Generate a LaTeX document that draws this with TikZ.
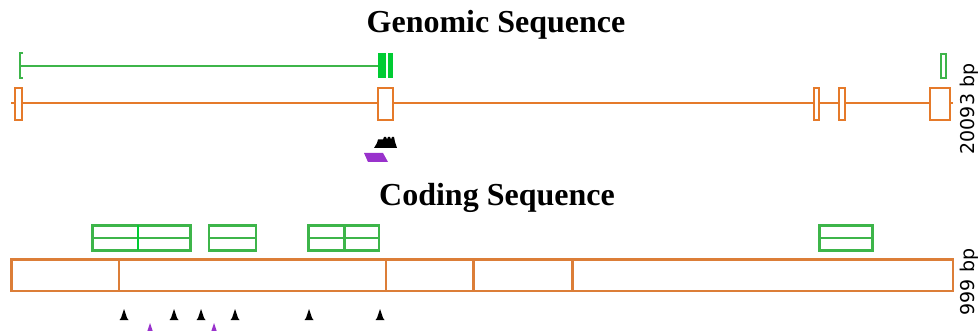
\documentclass[tikz,border=0pt]{standalone}
\usepackage{fontspec}
\setmainfont{Liberation Serif}
\newfontfamily\labfont{DejaVu Sans}
\definecolor{orng}{HTML}{E57A2A}
\definecolor{orng2}{HTML}{DC7E38}
\definecolor{grn}{HTML}{3DB54A}
\definecolor{brgrn}{HTML}{00CC33}
\definecolor{purp}{HTML}{9932CC}
\tikzset{
  title/.style={font=\fontsize{32}{38}\selectfont\bfseries, inner sep=0pt, anchor=base},
  bplabel/.style={font=\labfont\fontsize{19}{22}\selectfont, rotate=90, inner sep=0pt, anchor=center},
  gline/.style={draw=grn, line width=2.1pt},
  oline/.style={draw=orng, line width=2pt},
  obox/.style={draw=orng, fill=white, line width=2pt},
  cbox/.style={draw=orng2, fill=white, line width=2.2pt},
  cdiv/.style={draw=orng2, line width=2.2pt},
  gbox/.style={draw=grn, fill=white, line width=2.2pt},
  gfill/.style={fill=brgrn, draw=none},
  btri/.style={fill=black, draw=none},
  ptri/.style={fill=purp, draw=none},
}
\begin{document}
\begin{tikzpicture}[x=1pt, y=-1pt]
\useasboundingbox (0,0) rectangle (980,331);
% titles
\node[title] (gt) at (496,33) {Genomic Sequence};
\node[title] (ct) at (497,206) {Coding Sequence};
% genomic green track
\draw[gline] (23,53) -- (20,53) -- (20,78) -- (23,78);
\draw[gline] (20,66) -- (378,66);
\fill[gfill] (378,53) rectangle (386,78);
\fill[gfill] (388,53) rectangle (393,78);
\draw[gbox, line width=1.6pt] (941,54) rectangle (946,78);
% genomic orange track
\draw[oline] (11,103) -- (953,103);
\draw[obox] (15,88) rectangle (22,120);
\draw[obox] (378,88) rectangle (392.5,120);
\draw[obox] (814,88) rectangle (819,120);
\draw[obox] (838.5,88) rectangle (844.5,120);
\draw[obox] (929.5,88) rectangle (950,120);
\node[bplabel] (gl) at (969,109) {20093 bp};
% genomic markers
\fill[btri] (374,148) -- (377,143) -- (378,139.5) -- (383,139.5) -- (384,137) -- (386,137) -- (387,139.5)
  -- (388,137) -- (390,137) -- (391,139.5) -- (392,137) -- (394,137) -- (395,142) -- (397,148) -- cycle;
\fill[ptri] (364,153) -- (383,153) -- (388,162) -- (368,162) -- cycle;
% coding green boxes
\foreach \a/\b in {92.5/138, 138/190.5, 209/256, 308.5/344.5, 344.5/379, 819.5/872.5}{
  \draw[gbox] (\a,225.5) rectangle (\b,250.5);
  \draw[gline] (\a,238.3) -- (\b,238.3);
}
\draw[draw=brgrn, line width=2.8pt] (138,225.5) -- (138,250.5);
% coding orange box
\draw[cbox] (11.5,259.5) rectangle (953,291);
\foreach \x in {119,386,473.5,572.5}{
  \draw[cdiv] (\x,259.5) -- (\x,291);
}
\node[bplabel] (cl) at (969,282) {999 bp};
% coding markers
\foreach \x in {124,174,201,235,309,380}{
  \fill[btri] (\x-4.5,320) -- (\x-3,318) -- (\x,309) -- (\x+3,318) -- (\x+4.5,320) -- cycle;
}
\foreach \x in {150,214}{
  \fill[ptri] (\x-4.5,334) -- (\x-3,332) -- (\x,323) -- (\x+3,332) -- (\x+4.5,334) -- cycle;
}
\end{tikzpicture}
\end{document}
